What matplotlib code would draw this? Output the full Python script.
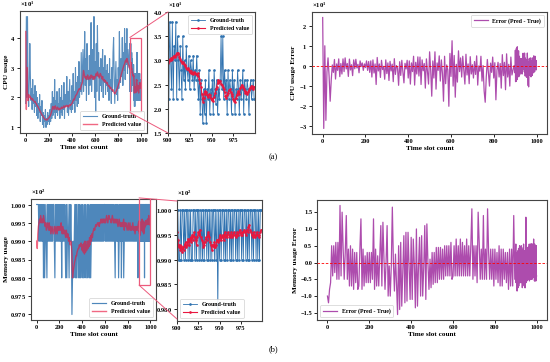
import numpy as np
import matplotlib
matplotlib.use("Agg")
import matplotlib.pyplot as plt
from matplotlib.patches import Rectangle, ConnectionPatch

# ---------------- data ----------------
# coarse part: time slots 0..895 every 5 slots; fine part: 900..999 every slot
t_coarse = list(range(0, 900, 5))
t_fine = list(range(900, 1000))

cpu_true_coarse = [
    18, 47, 20, 47, 22, 17, 25, 38, 27, 19,
    23, 16, 26, 18, 21, 15, 24, 17, 22, 14,
    20, 13, 18, 15, 21, 12, 17, 14, 19, 11,
    15, 10, 14, 12, 16, 10, 13, 11, 15, 12,
    14, 11, 16, 12, 18, 13, 22, 14, 20, 15,
    26, 13, 19, 15, 22, 14, 18, 16, 23, 13,
    20, 15, 24, 14, 19, 16, 25, 13, 21, 17,
    18, 27, 15, 22, 14, 20, 26, 16, 19, 15,
    24, 16, 28, 18, 22, 15, 30, 19, 25, 17,
    27, 18, 32, 20, 25, 22, 35, 21, 28, 36,
    22, 30, 42, 24, 33, 19, 38, 26, 29, 21,
    34, 24, 30, 45, 22, 36, 26, 28, 47, 20,
    32, 15, 38, 22, 44, 27, 35, 19, 30, 24,
    33, 22, 28, 36, 20, 30, 25, 34, 21, 29,
    24, 31, 22, 28, 19, 33, 23, 26, 18, 30,
    22, 35, 40, 27, 18, 25, 32, 21, 26, 19,
    30, 23, 42, 28, 25, 33, 27, 40, 24, 35,
    29, 43, 26, 38, 31, 43, 28, 36, 33, 30,
]
cpu_pred_coarse = [
    42, 16, 30, 20, 19, 21, 20, 20.5, 20, 19.5,
    19.8, 19.2, 19.5, 19, 18.8, 18.5, 18.7, 18.2, 18, 17.5,
    17.2, 17, 16.5, 16.2, 15.8, 15.4, 15, 14.6, 14.2, 14,
    13.6, 13.3, 13, 12.8, 12.6, 12.5, 12.7, 12.5, 12.8, 13,
    13.2, 13.5, 13.8, 14.2, 14.8, 15.5, 16.5, 17, 16.5, 16,
    16.8, 17.2, 16.5, 16, 16.3, 16.8, 16.2, 15.8, 16.4, 16,
    16.2, 16.5, 16.8, 16.3, 16.5, 16.9, 17.2, 16.6, 16.8, 17.2,
    17, 17.4, 17.1, 17.3, 16.8, 17.2, 17.6, 17.3, 17.5, 17.8,
    18, 18.5, 19, 19.5, 19.2, 19.8, 20.5, 20.8, 21, 21.5,
    22, 22.4, 22.8, 23, 22.6, 23.2, 24, 24.5, 25, 27,
    29, 28, 27, 26.5, 27, 26, 26.5, 27.5, 26.8, 26,
    26.5, 27, 26.2, 27.5, 26.8, 27.2, 26.5, 26, 27, 26.2,
    26.8, 27.5, 28, 27.2, 28.5, 27.8, 27, 26.5, 27.2, 28,
    27.5, 26.8, 26.2, 27, 25.8, 25.5, 26, 25.2, 25.6, 25,
    24.6, 25, 24.2, 23.8, 24, 23.5, 23, 23.4, 22.8, 22.5,
    22.2, 22.6, 22, 21.6, 21.2, 21.5, 22, 22.4, 22.8, 23.4,
    24, 24.6, 25.2, 26, 26.8, 27.5, 28.2, 29, 29.6, 30.2,
    30.8, 31.2, 32, 32.5, 31.8, 33, 32.4, 31.5, 30.8, 30.2,
]
cpu_true_fine = [
    33, 22, 38, 30, 24, 38, 22, 33, 30, 38,
    22, 35, 30, 24, 33, 28, 22, 35, 26, 30,
    24, 33, 28, 26, 31, 24, 30, 28, 26, 31,
    24, 28, 26, 31, 26, 22, 28, 19, 26, 22,
    17, 24, 19, 26, 17, 24, 22, 28, 19, 24,
    22, 26, 19, 28, 24, 21, 26, 19, 24, 22,
    26, 35, 24, 35, 22, 28, 24, 26, 19, 28,
    22, 26, 24, 19, 28, 22, 26, 19, 24, 22,
    28, 24, 19, 26, 22, 24, 28, 19, 26, 24,
    22, 26, 24, 19, 24, 26, 22, 24, 26, 22,
]
cpu_pred_fine = [
    29.5, 29.8, 30.2, 30.0, 30.5, 30.3, 30.8, 31.0, 30.6, 31.2,
    31.5, 31.3, 31.6, 30.8, 30.2, 29.8, 29.5, 29.6, 29.2, 29.0,
    28.8, 28.5, 28.2, 28.4, 28.0, 27.6, 27.8, 27.3, 27.5, 27.2,
    27.6, 27.4, 27.2, 27.0, 27.3, 26.8, 26.2, 25.3, 24.5, 23.0,
    21.5, 22.3, 23.6, 23.0, 23.4, 22.8, 22.4, 23.0, 22.9, 22.2,
    21.8, 22.0, 21.6, 22.4, 23.2, 24.0, 24.6, 25.4, 26.0, 25.6,
    25.8, 25.2, 25.0, 24.6, 24.0, 23.4, 22.6, 22.2, 22.8, 23.3,
    23.8, 24.0, 23.5, 23.0, 22.6, 22.0, 21.6, 21.5, 22.2, 22.8,
    23.3, 23.6, 23.0, 24.2, 24.6, 25.0, 24.6, 24.0, 23.6, 23.3,
    23.5, 23.1, 23.4, 23.8, 24.2, 24.5, 24.8, 24.4, 24.0, 24.6,
]

mem_true_coarse = [
    100, 100, 100, 100, 99, 100, 99, 100, 99, 100,
    99, 100, 98, 100, 98, 99, 100, 99, 98, 100,
    99, 100, 99, 100, 99, 100, 99, 100, 99, 100,
    100, 99, 98, 100, 99, 100, 99, 100, 99, 100,
    99, 100, 99, 100, 98, 100, 99, 100, 99, 100,
    99, 98, 100, 98, 99, 100, 99, 98, 100, 99,
    100, 99, 97, 98, 99, 98, 99, 100, 98, 100,
    98, 100, 99, 98, 100, 98, 100, 98, 99, 100,
    98, 100, 98, 99, 100, 98, 100, 99, 98, 100,
    98, 100, 99, 98, 100, 98, 99, 100, 99, 100,
    99, 100, 99, 100, 99, 100, 99, 100, 99, 100,
    99, 100, 99, 100, 99, 100, 99, 100, 99, 100,
    100, 99, 100, 99, 100, 99, 100, 99, 100, 99,
    100, 99, 100, 99, 100, 99, 100, 99, 98, 100,
    99, 100, 99, 100, 98, 99, 100, 99, 100, 98,
    100, 99, 100, 98, 99, 100, 99, 100, 99, 100,
    99, 100, 99, 100, 99, 100, 99, 100, 99, 100,
    99, 100, 99, 100, 99, 100, 99, 100, 98, 100,
]
mem_pred_coarse = [
    99.0, 98.8, 99.2, 99.4, 99.5, 99.6, 99.5, 99.7, 99.6, 99.5,
    99.6, 99.5, 99.7, 99.6, 99.5, 99.4, 99.5, 99.3, 99.4, 99.5,
    99.4, 99.3, 99.5, 99.3, 99.4, 99.2, 99.3, 99.4, 99.3, 99.2,
    99.3, 99.4, 99.3, 99.2, 99.4, 99.3, 99.2, 99.4, 99.3, 99.4,
    99.3, 99.4, 99.3, 99.5, 99.3, 99.2, 99.4, 99.3, 99.2, 99.3,
    99.2, 99.1, 99.3, 99.2, 99.1, 99.2, 99.0, 99.1, 99.0, 98.9,
    99.0, 98.9, 98.65, 98.0, 98.15, 98.25, 98.35, 98.45, 98.5, 98.6,
    98.6, 98.7, 98.75, 98.8, 98.8, 98.9, 98.85, 98.9, 98.95, 98.9,
    98.75, 98.9, 98.7, 98.95, 98.65, 99.0, 98.7, 98.9, 98.75, 99.0,
    98.8, 99.0, 98.85, 99.1, 98.9, 99.15, 99.0, 99.2, 99.1, 99.25,
    99.3, 99.35, 99.3, 99.4, 99.45, 99.4, 99.45, 99.5, 99.45, 99.5,
    99.4, 99.5, 99.5, 99.6, 99.5, 99.6, 99.5, 99.6, 99.6, 99.5,
    99.6, 99.5, 99.6, 99.7, 99.6, 99.5, 99.6, 99.7, 99.6, 99.6,
    99.6, 99.5, 99.6, 99.7, 99.6, 99.5, 99.6, 99.5, 99.6, 99.5,
    99.5, 99.6, 99.5, 99.4, 99.5, 99.6, 99.5, 99.4, 99.5, 99.4,
    99.5, 99.4, 99.5, 99.6, 99.3, 99.5, 99.4, 99.5, 99.4, 99.3,
    99.4, 99.5, 99.3, 99.4, 99.5, 99.3, 99.4, 99.3, 99.4, 99.5,
    99.3, 99.4, 99.3, 99.2, 99.4, 99.3, 99.4, 99.3, 99.4, 99.5,
]
mem_true_fine = [
    99, 100, 99, 99, 100, 99, 100, 100, 99, 100,
    99, 100, 100, 99, 100, 99, 100, 99, 99, 100,
    100, 99, 100, 99, 100, 100, 99, 100, 99, 100,
    99, 100, 99, 100, 100, 99, 100, 99, 100, 99,
    100, 99, 100, 100, 99, 100, 99, 100, 98, 100,
    99, 100, 99, 100, 100, 99, 100, 99, 100, 99,
    100, 100, 99, 100, 99, 100, 99, 100, 100, 99,
    100, 99, 100, 99, 100, 100, 99, 100, 99, 100,
    100, 99, 100, 99, 100, 99, 100, 100, 99, 100,
    99, 100, 100, 99, 100, 99, 100, 99, 100, 100,
]
mem_pred_fine = [
    99.55, 99.4, 99.25, 99.3, 99.2, 99.28, 99.15, 99.25, 99.2, 99.3,
    99.35, 99.25, 99.3, 99.42, 99.3, 99.4, 99.45, 99.35, 99.5, 99.4,
    99.55, 99.45, 99.4, 99.3, 99.45, 99.55, 99.5, 99.6, 99.45, 99.4,
    99.35, 99.25, 99.3, 99.35, 99.45, 99.4, 99.5, 99.55, 99.45, 99.35,
    99.3, 99.2, 99.3, 99.25, 99.35, 99.25, 99.3, 99.4, 99.35, 99.4,
    99.45, 99.5, 99.4, 99.45, 99.5, 99.4, 99.55, 99.45, 99.5, 99.45,
    99.55, 99.5, 99.45, 99.5, 99.55, 99.45, 99.5, 99.55, 99.5, 99.45,
    99.5, 99.55, 99.5, 99.55, 99.6, 99.5, 99.55, 99.5, 99.55, 99.6,
    99.55, 99.5, 99.6, 99.55, 99.65, 99.7, 99.6, 99.55, 99.5, 99.45,
    99.55, 99.5, 99.45, 99.5, 99.55, 99.5, 99.45, 99.5, 99.55, 99.6,
]

labels_truth = "Ground-truth"
labels_pred = "Predicted value"
label_err = "Error (Pred - True)"

# ---------------- assemble ----------------
t = np.array(t_coarse + t_fine)
cpu_true = np.array(cpu_true_coarse + cpu_true_fine, dtype=float)
cpu_pred = np.array(cpu_pred_coarse + cpu_pred_fine, dtype=float)
mem_true = np.array(mem_true_coarse + mem_true_fine, dtype=float)
mem_pred = np.array(mem_pred_coarse + mem_pred_fine, dtype=float)
cpu_err = cpu_pred - cpu_true
mem_err = mem_pred - mem_true
tf = np.array(t_fine)
nf = len(t_fine)

plt.rcParams.update({
    "font.family": ["Liberation Serif", "DejaVu Serif"],
    "font.weight": "bold",
    "axes.labelweight": "bold",
    "mathtext.default": "regular",
    "axes.edgecolor": "#444444",
    "axes.linewidth": 0.8,
    "xtick.major.size": 2,
    "ytick.major.size": 2,
    "xtick.major.width": 0.6,
    "ytick.major.width": 0.6,
    "xtick.major.pad": 1.5,
    "ytick.major.pad": 1.5,
    "xtick.labelsize": 4.6,
    "ytick.labelsize": 4.6,
    "axes.labelsize": 5.2,
    "axes.labelpad": 1.5,
})

W, H = 550, 362
fig = plt.figure(figsize=(W / 100, H / 100), dpi=100)

def rect(l, t_, r, b):
    return [l / W, 1 - b / H, (r - l) / W, (b - t_) / H]

BLUE = "#2f72b0"
RED = "#e8173f"
PURP = "#8b008b"
PINK = "#ec5a7c"

def sci(ax):
    ax.ticklabel_format(axis="y", style="sci", scilimits=(0, 0), useMathText=True, useOffset=False)
    ax.yaxis.get_offset_text().set_fontsize(4.8)
    ax.yaxis.get_offset_text().set_fontweight("bold")

def leg(ax, loc):
    lg = ax.legend(loc=loc, fontsize=4.2, handlelength=2.4, borderpad=0.5,
                   labelspacing=0.6, framealpha=0.9, edgecolor="#cccccc", fancybox=True)
    lg.get_frame().set_linewidth(0.5)
    return lg

def zoom_links(ax_main, ax_in, x0, x1, y0, y1):
    ax_main.add_patch(Rectangle((x0, y0), x1 - x0, y1 - y0, fill=False,
                                edgecolor=PINK, lw=0.9, zorder=5))
    for yy in (y1, y0):
        cp = ConnectionPatch(xyA=(x0, yy), coordsA=ax_main.transData,
                             xyB=(x0, yy), coordsB=ax_in.transData,
                             color=PINK, lw=0.7)
        fig.add_artist(cp)

# ---------------- (a) CPU ----------------
ax1 = fig.add_axes(rect(20, 11, 147, 133))
ax1.plot(t, cpu_true, color=BLUE, lw=0.8, alpha=0.8, label=labels_truth)
ax1.plot(t, cpu_pred, color=RED, lw=1.0, alpha=0.65, label=labels_pred)
ax1.set_xlabel("Time slot count")
ax1.set_ylabel("CPU usage", labelpad=1)
ax1.set_xticks([0, 200, 400, 600, 800, 1000])
ax1.set_yticks([10, 20, 30, 40])
sci(ax1)
leg(ax1, "lower right")

ax2 = fig.add_axes(rect(168, 12, 255, 133))
ax2.plot(tf, cpu_true[-nf:], color=BLUE, lw=0.6, marker=".", ms=1.8, label=labels_truth)
ax2.plot(tf, cpu_pred[-nf:], color=RED, lw=0.8, marker=".", ms=1.8, label=labels_pred)
ax2.set_xlim(900, 1000)
ax2.set_ylim(15, 40)
ax2.set_xticks([900, 925, 950, 975])
sci(ax2)
leg(ax2, "upper right")
zoom_links(ax1, ax2, 900, 1000, 15, 40)

ax3 = fig.add_axes(rect(312, 12, 547, 134))
ax3.plot(t, cpu_err, color=PURP, lw=0.9, alpha=0.7, label=label_err)
ax3.axhline(0, color="red", ls=(0, (3, 2)), lw=0.6, zorder=5)
ax3.set_xlabel("Time slot count")
ax3.set_ylabel("CPU usage Error")
ax3.set_xticks([0, 200, 400, 600, 800, 1000])
sci(ax3)
leg(ax3, "upper right")

# ---------------- (b) Memory ----------------
ax4 = fig.add_axes(rect(31, 199, 156, 320))
ax4.plot(t, mem_true, color=BLUE, lw=0.85, alpha=0.85, label=labels_truth)
ax4.plot(t, mem_pred, color=RED, lw=1.0, alpha=0.65, label=labels_pred)
ax4.set_xlabel("Time slot count")
ax4.set_ylabel("Memory usage", labelpad=1)
ax4.set_xticks([0, 200, 400, 600, 800, 1000])
sci(ax4)
leg(ax4, "lower right")

ax5 = fig.add_axes(rect(177, 200, 262, 321))
ax5.plot(tf, mem_true[-nf:], color=BLUE, lw=0.6, marker=".", ms=1.8, label=labels_truth)
ax5.plot(tf, mem_pred[-nf:], color=RED, lw=0.8, marker=".", ms=1.8, label=labels_pred)
ax5.set_xlim(900, 1000)
ax5.set_ylim(97.76, 100.2)
ax5.set_xticks([900, 925, 950, 975])
sci(ax5)
leg(ax5, "lower left")
zoom_links(ax4, ax5, 900, 1000, 97.8, 100.18)

ax6 = fig.add_axes(rect(317, 200, 547, 320))
ax6.plot(t, mem_err, color=PURP, lw=0.9, alpha=0.7, label=label_err)
ax6.axhline(0, color="red", ls=(0, (3, 2)), lw=0.6, zorder=5)
ax6.set_xlabel("Time slot count")
ax6.set_ylabel("Memory usage Error")
ax6.set_xticks([0, 200, 400, 600, 800, 1000])
leg(ax6, "lower left")

fig.text(273 / W, 1 - 157 / H, "(a)", ha="center", va="center", fontsize=6, fontweight="normal")
fig.text(273 / W, 1 - 349 / H, "(b)", ha="center", va="center", fontsize=6, fontweight="normal")

fig.savefig("out.png", dpi=100)
